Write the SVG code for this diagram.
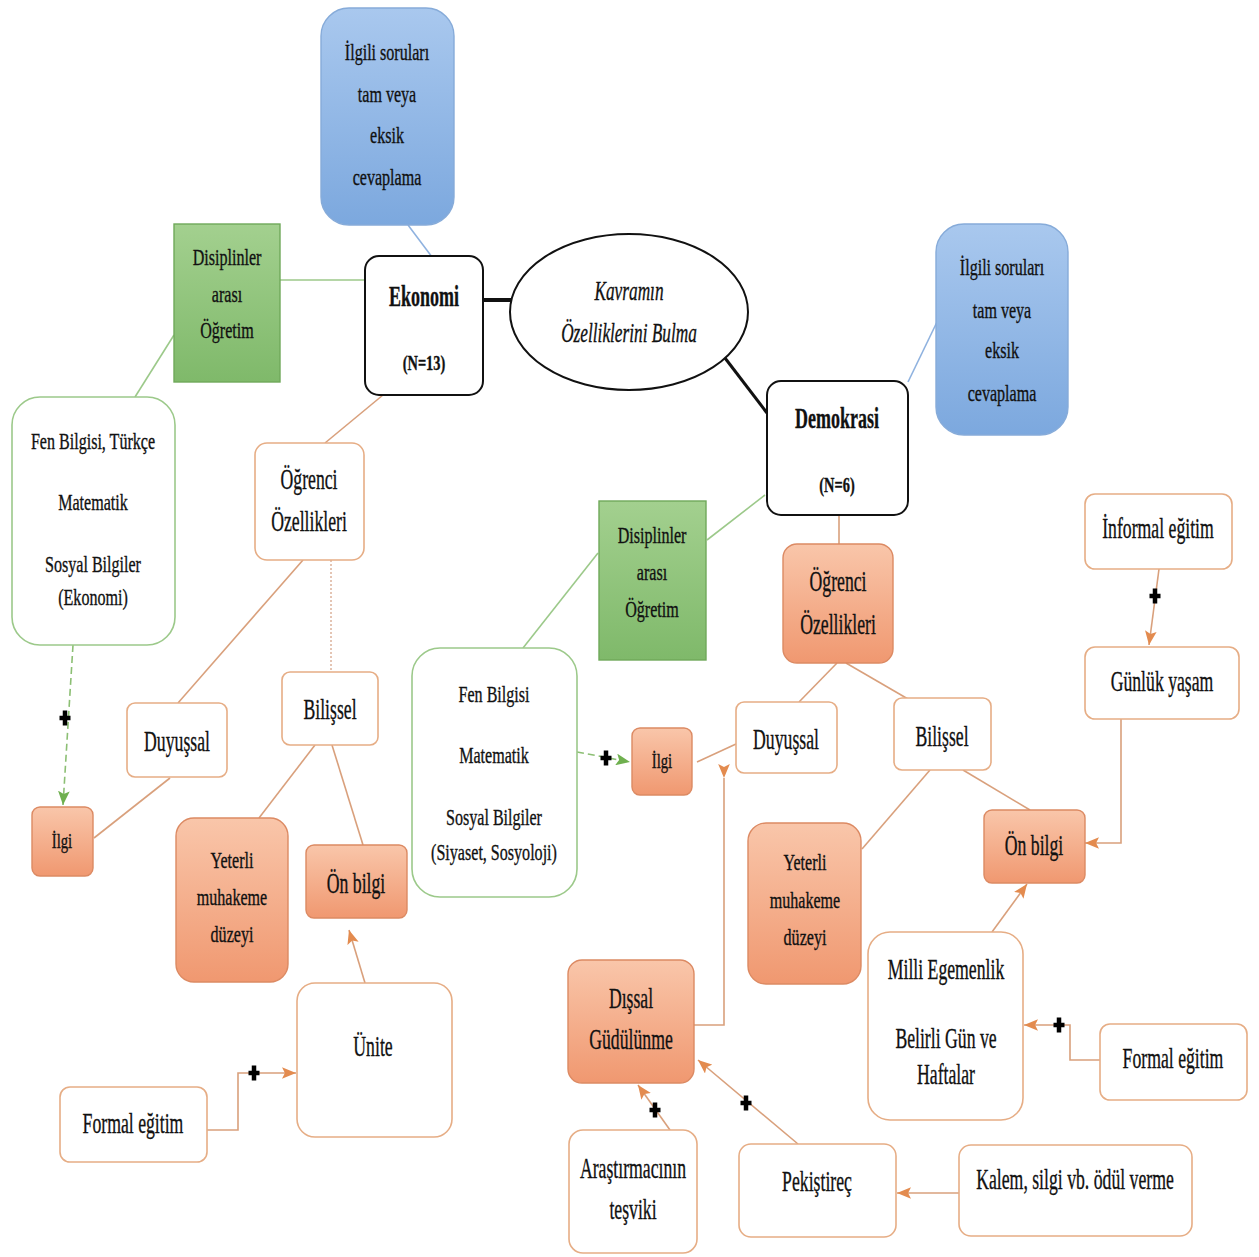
<svg xmlns="http://www.w3.org/2000/svg" width="1259" height="1257" viewBox="0 0 1259 1257">
  <defs>
    <linearGradient id="gOrange" x1="0" y1="0" x2="0" y2="1">
      <stop offset="0" stop-color="#f9c6aa"/>
      <stop offset="1" stop-color="#f09870"/>
    </linearGradient>
    <linearGradient id="gBlue" x1="0" y1="0" x2="0" y2="1">
      <stop offset="0" stop-color="#a9c8ee"/>
      <stop offset="1" stop-color="#7ca8de"/>
    </linearGradient>
    <linearGradient id="gGreen" x1="0" y1="0" x2="0" y2="1">
      <stop offset="0" stop-color="#a3d08f"/>
      <stop offset="1" stop-color="#7fb96a"/>
    </linearGradient>
    <marker id="arrOr" viewBox="0 0 12 10" refX="12" refY="5" markerWidth="14" markerHeight="12" markerUnits="userSpaceOnUse" orient="auto">
      <path d="M0,0 L12,5 L0,10 L2.5,5 z" fill="#e38b4f"/>
    </marker>
    <marker id="arrGr" viewBox="0 0 12 10" refX="12" refY="5" markerWidth="14" markerHeight="12" markerUnits="userSpaceOnUse" orient="auto">
      <path d="M0,0 L12,5 L0,10 L2.5,5 z" fill="#6fb04f"/>
    </marker>
    <path id="plus" d="M-5.5,0 H5.5 M0,-7.5 V7.5" stroke="#000" stroke-width="4.5" fill="none"/>
  </defs>
  <style>
    text { font-family: "Liberation Serif", "DejaVu Serif", serif; fill: #111; stroke: #111; stroke-width: 0.35; text-anchor: middle; }
    .a { font-size: 24px; }
    .b { font-size: 30px; }
    .s { font-size: 21px; }
    .h { font-size: 29px; font-weight: bold; }
    .n { font-size: 20px; font-weight: bold; }
    .it { font-size: 27px; font-style: italic; }
    .wo { fill: #fff; stroke: #e6ad85; stroke-width: 1.6; }
    .wg { fill: #fff; stroke: #9cc98a; stroke-width: 1.6; }
    .of { fill: url(#gOrange); stroke: #dc8a63; stroke-width: 1.4; }
    .bl { fill: url(#gBlue); stroke: #86abd9; stroke-width: 1.4; }
    .gr { fill: url(#gGreen); stroke: #6fa95a; stroke-width: 1.4; }
    .bk { fill: #fff; stroke: #111; stroke-width: 2; }
    .lo { fill: none; stroke: #d9a07c; stroke-width: 1.6; }
    .lg { fill: none; stroke: #9cc98a; stroke-width: 1.6; }
    .lb { fill: none; stroke: #8fb2df; stroke-width: 1.6; }
    .ld { fill: none; stroke: #8cbf74; stroke-width: 1.6; stroke-dasharray: 7 4; }
    .lk { fill: none; stroke: #111; }
    .ao { marker-end: url(#arrOr); }
  </style>

  <!-- connectors -->
  <g id="connectors">
    <path class="lb" d="M408,225 L432,257"/>
    <path class="lb" d="M937,322 L908,382"/>
    <path class="lg" d="M280,280 H365"/>
    <path class="lg" d="M174,335 L135,397"/>
    <path class="lg" d="M765,495 L707,540"/>
    <path class="lg" d="M598,553 L523,648"/>
    <path class="ld" d="M73,645 L63,805" marker-end="url(#arrGr)"/>
    <path class="ld" d="M577,752 L630,762" marker-end="url(#arrGr)"/>
    <path class="lk" stroke-width="4" d="M483,300 H511"/>
    <path class="lk" stroke-width="3" d="M725,358 L767,413"/>
    <path class="lo" d="M383,395 L325,443"/>
    <path class="lo" d="M303,560 L178,703"/>
    <path fill="none" stroke="#c98a68" stroke-width="1" stroke-dasharray="2 2" d="M331,560 V672"/>
    <path class="lo" d="M170,778 L94,838"/>
    <path class="lo" d="M315,745 L259,818"/>
    <path class="lo" d="M332,745 L363,845"/>
    <path class="lo" d="M697,762 L736,744"/>
    <path class="lo" d="M839,515 V544"/>
    <path class="lo" d="M837,663 L799,702"/>
    <path class="lo" d="M846,663 L908,699"/>
    <path class="lo" d="M930,770 L862,849"/>
    <path class="lo" d="M963,770 L1030,810"/>
    <path class="lo ao" d="M365,983 L349,930"/>
    <path class="lo ao" d="M207,1130 H238 V1073 H296"/>
    <path class="lo ao" d="M1159,569 L1149,645"/>
    <path class="lo ao" d="M1121,719 V843 H1085"/>
    <path class="lo ao" d="M992,932 L1027,884"/>
    <path class="lo ao" d="M1100,1060 H1070 V1025 H1024"/>
    <path class="lo" d="M724,778 V1025 H694" marker-start="url(#arrOr)"/>
    <path class="lo ao" d="M670,1130 L638,1085"/>
    <path class="lo ao" d="M798,1144 L698,1060"/>
    <path class="lo ao" d="M959,1193 H897"/>
    <use href="#plus" x="65" y="718"/>
    <use href="#plus" x="606" y="758"/>
    <use href="#plus" x="254" y="1073"/>
    <use href="#plus" x="1155" y="596"/>
    <use href="#plus" x="1059" y="1025"/>
    <use href="#plus" x="655" y="1110"/>
    <use href="#plus" x="746" y="1103"/>
  </g>

  <!-- nodes -->
  <g id="n-blue1">
    <rect class="bl" x="321" y="8" width="133" height="217" rx="28"/>
    <text class="a" transform="translate(387,0) scale(0.67,1)"><tspan x="0" y="60">İlgili soruları</tspan><tspan x="0" y="102">tam veya</tspan><tspan x="0" y="143">eksik</tspan><tspan x="0" y="185">cevaplama</tspan></text>
  </g>
  <g id="n-green1">
    <rect class="gr" x="174" y="224" width="106" height="158"/>
    <text class="a" transform="translate(227,0) scale(0.67,1)"><tspan x="0" y="265">Disiplinler</tspan><tspan x="0" y="302">arası</tspan><tspan x="0" y="338">Öğretim</tspan></text>
  </g>
  <g id="n-ekonomi">
    <rect class="bk" x="365" y="256" width="118" height="139" rx="14"/>
    <text class="h" transform="translate(424,0) scale(0.62,1)"><tspan x="0" y="306">Ekonomi</tspan></text>
    <text class="n" transform="translate(424,0) scale(0.72,1)"><tspan x="0" y="370">(N=13)</tspan></text>
  </g>
  <g id="n-kavram">
    <ellipse class="bk" cx="629" cy="312" rx="119" ry="78" stroke-width="1.8"/>
    <text class="it" transform="translate(629,0) scale(0.64,1)"><tspan x="0" y="300">Kavramın</tspan><tspan x="0" y="342">Özelliklerini Bulma</tspan></text>
  </g>
  <g id="n-demokrasi">
    <rect class="bk" x="767" y="381" width="141" height="134" rx="14"/>
    <text class="h" transform="translate(837,0) scale(0.62,1)"><tspan x="0" y="428">Demokrasi</tspan></text>
    <text class="n" transform="translate(837,0) scale(0.72,1)"><tspan x="0" y="492">(N=6)</tspan></text>
  </g>
  <g id="n-blue2">
    <rect class="bl" x="936" y="224" width="132" height="211" rx="28"/>
    <text class="a" transform="translate(1002,0) scale(0.67,1)"><tspan x="0" y="275">İlgili soruları</tspan><tspan x="0" y="318">tam veya</tspan><tspan x="0" y="358">eksik</tspan><tspan x="0" y="401">cevaplama</tspan></text>
  </g>
  <g id="n-fen1">
    <rect class="wg" x="12" y="397" width="163" height="248" rx="28"/>
    <text class="a" transform="translate(93,0) scale(0.67,1)"><tspan x="0" y="449">Fen Bilgisi, Türkçe</tspan><tspan x="0" y="510">Matematik</tspan><tspan x="0" y="572">Sosyal Bilgiler</tspan><tspan x="0" y="605">(Ekonomi)</tspan></text>
  </g>
  <g id="n-ogrenci1">
    <rect class="wo" x="255" y="443" width="109" height="117" rx="12"/>
    <text class="b" transform="translate(309,0) scale(0.59,1)"><tspan x="0" y="489">Öğrenci</tspan><tspan x="0" y="531">Özellikleri</tspan></text>
  </g>
  <g id="n-duyussal1">
    <rect class="wo" x="127" y="703" width="100" height="74" rx="8"/>
    <text class="b" transform="translate(177,0) scale(0.59,1)"><tspan x="0" y="751">Duyuşsal</tspan></text>
  </g>
  <g id="n-bilissel1">
    <rect class="wo" x="282" y="672" width="96" height="73" rx="8"/>
    <text class="b" transform="translate(330,0) scale(0.59,1)"><tspan x="0" y="719">Bilişsel</tspan></text>
  </g>
  <g id="n-ilgi1">
    <rect class="of" x="32" y="807" width="61" height="69" rx="8"/>
    <text class="s" transform="translate(62,0) scale(0.7,1)"><tspan x="0" y="848">İlgi</tspan></text>
  </g>
  <g id="n-yeterli1">
    <rect class="of" x="176" y="818" width="112" height="164" rx="18"/>
    <text class="a" transform="translate(232,0) scale(0.67,1)"><tspan x="0" y="868">Yeterli</tspan><tspan x="0" y="905">muhakeme</tspan><tspan x="0" y="942">düzeyi</tspan></text>
  </g>
  <g id="n-onbilgi1">
    <rect class="of" x="306" y="845" width="101" height="73" rx="8"/>
    <text class="b" transform="translate(356,0) scale(0.59,1)"><tspan x="0" y="893">Ön bilgi</tspan></text>
  </g>
  <g id="n-unite">
    <rect class="wo" x="297" y="983" width="155" height="154" rx="18"/>
    <text class="b" transform="translate(373,0) scale(0.59,1)"><tspan x="0" y="1056">Ünite</tspan></text>
  </g>
  <g id="n-formal1">
    <rect class="wo" x="60" y="1087" width="147" height="75" rx="10"/>
    <text class="b" transform="translate(133,0) scale(0.59,1)"><tspan x="0" y="1133">Formal eğitim</tspan></text>
  </g>
  <g id="n-green2">
    <rect class="gr" x="599" y="501" width="107" height="159"/>
    <text class="a" transform="translate(652,0) scale(0.67,1)"><tspan x="0" y="543">Disiplinler</tspan><tspan x="0" y="580">arası</tspan><tspan x="0" y="617">Öğretim</tspan></text>
  </g>
  <g id="n-fen2">
    <rect class="wg" x="412" y="648" width="165" height="249" rx="28"/>
    <text class="a" transform="translate(494,0) scale(0.67,1)"><tspan x="0" y="702">Fen Bilgisi</tspan><tspan x="0" y="763">Matematik</tspan><tspan x="0" y="825">Sosyal Bilgiler</tspan><tspan x="0" y="860">(Siyaset, Sosyoloji)</tspan></text>
  </g>
  <g id="n-ilgi2">
    <rect class="of" x="632" y="728" width="60" height="67" rx="8"/>
    <text class="s" transform="translate(662,0) scale(0.7,1)"><tspan x="0" y="768">İlgi</tspan></text>
  </g>
  <g id="n-duyussal2">
    <rect class="wo" x="736" y="702" width="101" height="71" rx="8"/>
    <text class="b" transform="translate(786,0) scale(0.59,1)"><tspan x="0" y="749">Duyuşsal</tspan></text>
  </g>
  <g id="n-ogrenci2">
    <rect class="of" x="783" y="544" width="110" height="119" rx="14"/>
    <text class="b" transform="translate(838,0) scale(0.59,1)"><tspan x="0" y="591">Öğrenci</tspan><tspan x="0" y="634">Özellikleri</tspan></text>
  </g>
  <g id="n-bilissel2">
    <rect class="wo" x="894" y="698" width="97" height="72" rx="8"/>
    <text class="b" transform="translate(942,0) scale(0.59,1)"><tspan x="0" y="746">Bilişsel</tspan></text>
  </g>
  <g id="n-informal">
    <rect class="wo" x="1085" y="494" width="147" height="75" rx="10"/>
    <text class="b" transform="translate(1158,0) scale(0.59,1)"><tspan x="0" y="538">İnformal eğitim</tspan></text>
  </g>
  <g id="n-gunluk">
    <rect class="wo" x="1085" y="647" width="154" height="72" rx="10"/>
    <text class="b" transform="translate(1162,0) scale(0.59,1)"><tspan x="0" y="691">Günlük yaşam</tspan></text>
  </g>
  <g id="n-onbilgi2">
    <rect class="of" x="984" y="810" width="101" height="73" rx="8"/>
    <text class="b" transform="translate(1034,0) scale(0.59,1)"><tspan x="0" y="855">Ön bilgi</tspan></text>
  </g>
  <g id="n-yeterli2">
    <rect class="of" x="748" y="823" width="113" height="161" rx="18"/>
    <text class="a" transform="translate(805,0) scale(0.67,1)"><tspan x="0" y="870">Yeterli</tspan><tspan x="0" y="908">muhakeme</tspan><tspan x="0" y="945">düzeyi</tspan></text>
  </g>
  <g id="n-milli">
    <rect class="wo" x="868" y="932" width="155" height="188" rx="22"/>
    <text class="b" transform="translate(946,0) scale(0.59,1)"><tspan x="0" y="979">Milli Egemenlik</tspan><tspan x="0" y="1048">Belirli Gün ve</tspan><tspan x="0" y="1084">Haftalar</tspan></text>
  </g>
  <g id="n-formal2">
    <rect class="wo" x="1100" y="1024" width="147" height="76" rx="10"/>
    <text class="b" transform="translate(1173,0) scale(0.59,1)"><tspan x="0" y="1068">Formal eğitim</tspan></text>
  </g>
  <g id="n-dissal">
    <rect class="of" x="568" y="960" width="126" height="123" rx="14"/>
    <text class="b" transform="translate(631,0) scale(0.59,1)"><tspan x="0" y="1008">Dışsal</tspan><tspan x="0" y="1049">Güdülünme</tspan></text>
  </g>
  <g id="n-arastirmaci">
    <rect class="wo" x="569" y="1130" width="128" height="123" rx="14"/>
    <text class="b" transform="translate(633,0) scale(0.59,1)"><tspan x="0" y="1178">Araştırmacının</tspan><tspan x="0" y="1219">teşviki</tspan></text>
  </g>
  <g id="n-pekistirec">
    <rect class="wo" x="739" y="1144" width="157" height="93" rx="12"/>
    <text class="b" transform="translate(817,0) scale(0.59,1)"><tspan x="0" y="1191">Pekiştireç</tspan></text>
  </g>
  <g id="n-kalem">
    <rect class="wo" x="959" y="1145" width="233" height="91" rx="12"/>
    <text class="b" transform="translate(1075,0) scale(0.59,1)"><tspan x="0" y="1189">Kalem, silgi vb. ödül verme</tspan></text>
  </g>
</svg>
